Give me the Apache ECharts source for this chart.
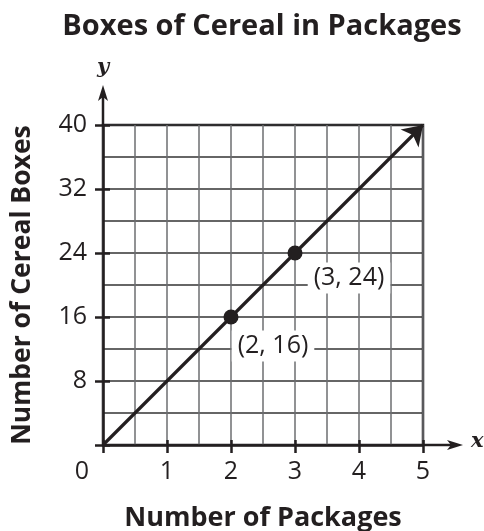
<!DOCTYPE html>
<html>
<head>
<meta charset="utf-8">
<script src="https://cdn.jsdelivr.net/npm/echarts@6/dist/echarts.min.js"></script>
<style>
  html, body { margin: 0; padding: 0; background: #fff; }
  #main { width: 484px; height: 531px; }
</style>
</head>
<body>
<div id="main"></div>
<script>
var titleText = 'Boxes of Cereal in Packages';
var xName = 'Number of Packages';
var yName = 'Number of Cereal Boxes';
var xTicks = [0, 1, 2, 3, 4, 5];
var yTicks = [0, 8, 16, 24, 32, 40];
var linePoints = [[0, 0], [5, 40]];
var dots = [[2, 16], [3, 24]];

var ink = '#231f20';
var font = '"Open Sans", "Noto Sans", sans-serif';

var chart = echarts.init(document.getElementById('main'), null, { renderer: 'canvas' });

var xMin = xTicks[0], xMax = xTicks[xTicks.length - 1], xStep = xTicks[1] - xTicks[0];
var yMin = yTicks[0], yMax = yTicks[yTicks.length - 1], yStep = yTicks[1] - yTicks[0];
var labelOffsets = [[42, 29], [54, 25]];

// extra axes only for the ticks that cross the axis line
function tickAxis(min, max, step, pos, inside, len) {
  return {
    type: 'value', min: min, max: max, interval: step, position: pos,
    axisLine: { show: false },
    axisTick: { show: true, inside: inside, length: len, lineStyle: { color: ink, width: 2.5 } },
    axisLabel: { show: false }, splitLine: { show: false }, splitArea: { show: false }
  };
}

var option = {
  animation: false,
  backgroundColor: '#fff',
  title: {
    text: titleText,
    left: 257,
    top: 7,
    textAlign: 'center',
    textStyle: { fontFamily: font, fontWeight: 'bold', fontSize: 29, color: ink }
  },
  grid: {
    left: 103, right: 61, top: 125, bottom: 86,
    outerBoundsMode: 'none', containLabel: false,
    show: true, borderColor: ink, borderWidth: 2.5, backgroundColor: 'transparent'
  },
  xAxis: [{
    type: 'value', min: xMin, max: xMax, interval: xStep / 2,
    name: xName, nameLocation: 'middle', nameGap: 60,
    nameTextStyle: { fontFamily: font, fontWeight: 'bold', fontSize: 27, color: ink },
    axisLine: { show: true, onZero: false, lineStyle: { color: ink, width: 2.5 } },
    axisTick: { show: false },
    axisLabel: {
      margin: 14, fontFamily: font, fontSize: 25, color: ink, showMinLabel: true, showMaxLabel: true,
      formatter: function (v) {
        if (v % xStep !== 0) return '';
        return v === 0 ? '{z|0}' : String(v);
      },
      rich: { z: { fontFamily: font, fontSize: 25, color: ink, padding: [0, 42, 0, 0] } }
    },
    splitLine: { show: true, lineStyle: { color: '#6d6e71', width: 1.5 } }
  },
    tickAxis(xMin, xMax, xStep, 'bottom', false, 8),
    tickAxis(xMin, xMax, xStep, 'bottom', true, 5)
  ],
  yAxis: [{
    type: 'value', min: yMin, max: yMax, interval: yStep / 2,
    name: yName, nameLocation: 'middle', nameGap: 67,
    nameTextStyle: { fontFamily: font, fontWeight: 'bold', fontSize: 26.5, color: ink },
    axisLine: { show: true, onZero: false, lineStyle: { color: ink, width: 2.5 } },
    axisTick: { show: false },
    axisLabel: {
      margin: 16, fontFamily: font, fontSize: 25, color: ink,
      formatter: function (v) { return (v === 0 || v % yStep !== 0) ? '' : String(v); }
    },
    splitLine: { show: true, lineStyle: { color: '#333333', width: 1.5 } }
  },
    tickAxis(yMin, yMax, yStep, 'left', false, 8),
    tickAxis(yMin, yMax, yStep, 'left', true, 7)
  ],
  series: [{
    type: 'lines',
    coordinateSystem: 'cartesian2d',
    polyline: false,
    symbol: ['none', 'arrow'],
    symbolSize: 19,
    lineStyle: { color: ink, width: 3.2, opacity: 1 },
    data: [{ coords: linePoints }],
    z: 5
  }, {
    type: 'scatter',
    symbol: 'circle',
    symbolSize: 15,
    itemStyle: { color: ink, opacity: 1 },
    z: 6,
    data: dots.map(function (d, i) {
      return {
        value: d,
        label: {
          show: true, position: 'inside', offset: labelOffsets[i],
          formatter: '(' + d[0] + ', ' + d[1] + ')',
          fontFamily: font, fontSize: 25, color: ink, opacity: 1,
          backgroundColor: '#fff', padding: [3, 6]
        }
      };
    })
  }]
};

chart.setOption(option);

// axis arrows and x / y letters
var xe = chart.convertToPixel({ gridIndex: 0 }, [xMax, yMin]);
var ye = chart.convertToPixel({ gridIndex: 0 }, [xMin, yMax]);
var xTip = xe[0] + 40, yTip = ye[1] - 40;
var letter = { fontFamily: '"DejaVu Serif", "Liberation Serif", serif', fontStyle: 'italic', fontWeight: 'bold', fontSize: 21, fill: ink };
chart.setOption({
  graphic: [
    { type: 'line', shape: { x1: xe[0], y1: xe[1], x2: xTip - 8, y2: xe[1] }, style: { stroke: ink, lineWidth: 2.5 } },
    { type: 'polygon', shape: { points: [[xTip, xe[1]], [xTip - 16, xe[1] - 5], [xTip - 12, xe[1]], [xTip - 16, xe[1] + 5]] }, style: { fill: ink } },
    { type: 'line', shape: { x1: ye[0], y1: ye[1], x2: ye[0], y2: yTip + 8 }, style: { stroke: ink, lineWidth: 2.5 } },
    { type: 'polygon', shape: { points: [[ye[0], yTip], [ye[0] - 5, yTip + 16], [ye[0], yTip + 12], [ye[0] + 5, yTip + 16]] }, style: { fill: ink } },
    { type: 'text', x: xTip + 8, y: xe[1] - 3, style: Object.assign({ text: 'x', textAlign: 'left', textVerticalAlign: 'middle' }, letter) },
    { type: 'text', x: ye[0], y: yTip - 17, style: Object.assign({ text: 'y', textAlign: 'center', textVerticalAlign: 'middle' }, letter) }
  ]
});
</script>
</body>
</html>
